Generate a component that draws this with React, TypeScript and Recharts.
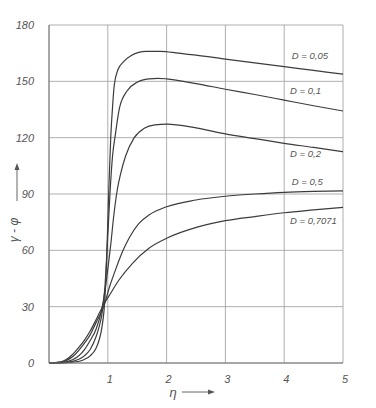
import React from "react";
import { LineChart, Line, XAxis, YAxis, CartesianGrid, ReferenceDot } from "recharts";

// readings, eta on x, (gamma - phi) in degrees on y
const eta005 = [0, 0.2, 0.4, 0.6, 0.7, 0.8, 0.85, 0.9, 0.95, 0.98, 1.0, 1.02, 1.05, 1.08, 1.11, 1.17, 1.27, 1.4, 1.65, 1.9, 2.2, 2.5, 3, 3.5, 4, 4.5, 5];
const val005 = [0, 0.05, 0.4, 1.9, 3.8, 7.9, 12, 19, 34, 55, 75, 95, 120, 136, 148, 156, 160.5, 163.8, 166, 166, 165, 164, 161.8, 159.8, 157.8, 155.8, 153.8];

const eta01 = [0, 0.2, 0.4, 0.6, 0.7, 0.8, 0.85, 0.9, 0.95, 1.0, 1.04, 1.08, 1.13, 1.2, 1.33, 1.5, 1.7, 1.85, 2, 2.5, 3, 3.5, 4, 4.5, 5];
const val01 = [0, 0.1, 0.9, 3.8, 7.2, 14, 19, 26, 40, 68, 92, 110, 122, 136, 145, 149.5, 151.3, 151.6, 151.3, 148.8, 145.8, 143, 140, 137, 134.2];

const eta02 = [0, 0.2, 0.4, 0.6, 0.7, 0.8, 0.9, 0.95, 1.0, 1.05, 1.1, 1.16, 1.22, 1.3, 1.45, 1.62, 1.8, 2.0, 2.5, 3, 3.5, 4, 4.5, 5];
const val02 = [0, 0.2, 1.7, 7, 12, 18, 29, 38, 50, 63, 78, 92, 101, 110, 120, 125, 126.8, 127.2, 125.2, 122, 119.5, 117, 114.8, 112.5];

const eta05 = [0, 0.2, 0.4, 0.6, 0.7, 0.8, 0.93, 1.03, 1.14, 1.26, 1.37, 1.53, 1.7, 2, 2.5, 3, 3.5, 4, 4.5, 5];
const val05 = [0, 0.5, 3.3, 10.5, 15, 21.5, 30, 40.6, 50.4, 60, 67, 74.4, 78.8, 83.2, 86.8, 88.8, 90, 90.9, 91.4, 91.7];

const eta07 = [0, 0.2, 0.3, 0.4, 0.5, 0.6, 0.7, 0.8, 0.91, 1.03, 1.19, 1.42, 1.7, 2, 2.55, 3, 3.5, 4, 4.5, 5];
const val07 = [0, 0.6, 2, 4.5, 8, 12, 17, 23, 30, 36.2, 44.2, 53.1, 61.1, 66.4, 72.6, 75.8, 78, 80, 81.5, 82.9];

const curveNames = ["D = 0,05", "D = 0,1", "D = 0,2", "D = 0,5", "D = 0,7071"];
const xTicks = [1, 2, 3, 4, 5];
const yTicks = [0, 30, 60, 90, 120, 150, 180];

const series = [
  [eta005, val005],
  [eta01, val01],
  [eta02, val02],
  [eta05, val05],
  [eta07, val07],
].map(([xs, ys], i) => ({
  name: curveNames[i],
  data: xs.map((x, j) => ({ eta: x, v: ys[j] })),
}));

// where the curve names sit (data coords, left end of the text)
const labelSpots = [
  { x: 4.13, y: 163 },
  { x: 4.1, y: 144.8 },
  { x: 4.1, y: 110.8 },
  { x: 4.13, y: 95.9 },
  { x: 4.1, y: 75.1 },
];

const ink = "#3c3c3c";
const textGrey = "#555";
const font = "'Liberation Sans', Arial, sans-serif";

const tickStyle = { fontSize: 11, fontStyle: "italic", fill: textGrey, fontFamily: font };

const XLabel = () => (
  <g>
    <text x={165} y={389} fontSize={13} fontStyle="italic" fill={textGrey} fontFamily={font} textAnchor="middle">
      η
    </text>
    <line x1={174} y1={384} x2={205} y2={384} stroke={textGrey} strokeWidth={0.9} />
    <path d="M207,384 L200,381.5 L200,386.5 Z" fill={textGrey} />
  </g>
);

const YLabel = () => (
  <g>
    <text
      x={7}
      y={222}
      transform="rotate(-90 7 222)"
      fontSize={12}
      fontStyle="italic"
      fill={textGrey}
      fontFamily={font}
      textAnchor="middle"
      dominantBaseline="middle"
    >
      γ - φ
    </text>
    <line x1={9} y1={193} x2={9} y2={158} stroke={textGrey} strokeWidth={0.9} />
    <path d="M9,155 L6.5,162 L11.5,162 Z" fill={textGrey} />
  </g>
);

export default function App() {
  return (
    <LineChart width={368} height={400} margin={{ top: 17, right: 33, left: 1, bottom: 0 }}>
      <CartesianGrid stroke="#9a9a9a" strokeWidth={0.8} />
      <XAxis
        dataKey="eta"
        type="number"
        domain={[0, 5]}
        ticks={xTicks}
        allowDuplicatedCategory={false}
        tickLine={false}
        axisLine={{ stroke: "#777" }}
        tick={{ ...tickStyle, dx: 2 }}
        tickMargin={6}
        height={45}
        label={{ content: XLabel }}
      />
      <YAxis
        type="number"
        domain={[0, 180]}
        ticks={yTicks}
        tickLine={false}
        axisLine={{ stroke: "#777" }}
        tick={tickStyle}
        tickMargin={9}
        width={40}
        label={{ content: YLabel }}
      />
      {series.map((s) => (
        <Line
          key={s.name}
          data={s.data}
          dataKey="v"
          type="monotone"
          stroke={ink}
          strokeWidth={1.2}
          dot={false}
          isAnimationActive={false}
        />
      ))}
      {labelSpots.map((p, i) => (
        <ReferenceDot
          key={curveNames[i]}
          x={p.x}
          y={p.y}
          r={0}
          shape={(props: any) => (
            <text
              x={props.cx}
              y={props.cy}
              fontSize={9.5}
              fontStyle="italic"
              fill={textGrey}
              fontFamily={font}
              dominantBaseline="middle"
            >
              {curveNames[i]}
            </text>
          )}
        />
      ))}
    </LineChart>
  );
}
